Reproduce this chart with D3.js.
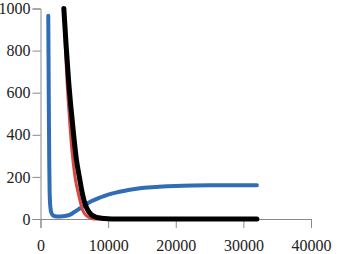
<!DOCTYPE html>
<html>
<head>
<meta charset="utf-8">
<script src="https://cdn.jsdelivr.net/npm/d3@7"></script>
<style>
  body { margin: 0; background: #fff; }
  .axis path, .axis line { stroke: #8a8a8a; }
  .axis text { font-family: 'Liberation Serif', 'DejaVu Serif', serif; font-size: 16px; fill: #222; }
</style>
</head>
<body>
<div id="chart"></div>
<script>
// Dados
const xTicks = [0, 10000, 20000, 30000, 40000];
const yTicks = [0, 200, 400, 600, 800, 1000];

const blueX = [1150, 1200, 1250, 1300, 1350, 1450, 1600, 1900, 2400, 3000, 3600, 4300, 5000, 5800, 6500, 7500, 8700, 10000, 11500, 13000, 15000, 17500, 20000, 22500, 25000, 27500, 30000, 32000];
const blueY = [965, 700, 450, 250, 130, 60, 30, 16, 12, 12, 14, 20, 33, 50, 65, 84, 101, 116, 128, 138, 147, 153, 157, 159, 160, 160, 160, 160];

const redX = [3450, 3700, 3950, 4300, 4550, 4790, 5100, 5600, 6220, 6800, 7500, 8000, 9000, 32000];
const redY = [1000, 800, 640, 470, 360, 281, 200, 120, 43, 15, 3, 0.5, 0, 0];

const blackX = [3450, 3800, 4150, 4500, 4900, 5300, 5800, 6100, 6400, 6800, 7200, 7700, 8300, 9000, 10000, 11000, 32000];
const blackY = [1000, 820, 660, 530, 400, 285, 190, 135, 92, 55, 32, 16, 8, 4, 1, 0, 0];

const width = 340;
const height = 254;

const svg = d3.select('#chart')
  .append('svg')
  .attr('width', width)
  .attr('height', height);

// Escalas
const x = d3.scaleLinear().domain([0, 40000]).range([40.5, 311]);
const y = d3.scaleLinear().domain([0, 1000]).range([219, 8.5]);

// Eixos
const gx = svg.append('g')
  .attr('class', 'axis')
  .attr('transform', `translate(0,${y(0)})`)
  .call(d3.axisBottom(x).tickValues(xTicks).tickSize(9).tickPadding(12).tickFormat(d3.format('d')));

const gy = svg.append('g')
  .attr('class', 'axis')
  .attr('transform', `translate(${x(0)},0)`)
  .call(d3.axisLeft(y).tickValues(yTicks).tickSize(8).tickPadding(2).tickFormat(d3.format('d')));

[gx, gy].forEach(g => {
  g.attr('font-family', null).attr('font-size', null);
  g.selectAll('text').style('font-family', "'Liberation Serif', 'DejaVu Serif', serif");
});

const line = d3.line()
  .x(d => x(d[0]))
  .y(d => y(d[1]))
  .curve(d3.curveMonotoneX);

const series = [
  { xs: blueX, ys: blueY, color: '#2f6db6', w: 4 },
  { xs: redX, ys: redY, color: '#d9473f', w: 3 },
  { xs: blackX, ys: blackY, color: '#000', w: 5 }
];

series.forEach(s => {
  svg.append('path')
    .datum(s.xs.map((v, i) => [v, s.ys[i]]))
    .attr('fill', 'none')
    .attr('stroke', s.color)
    .attr('stroke-width', s.w)
    .attr('stroke-linecap', 'round')
    .attr('d', line);
});
</script>
</body>
</html>
